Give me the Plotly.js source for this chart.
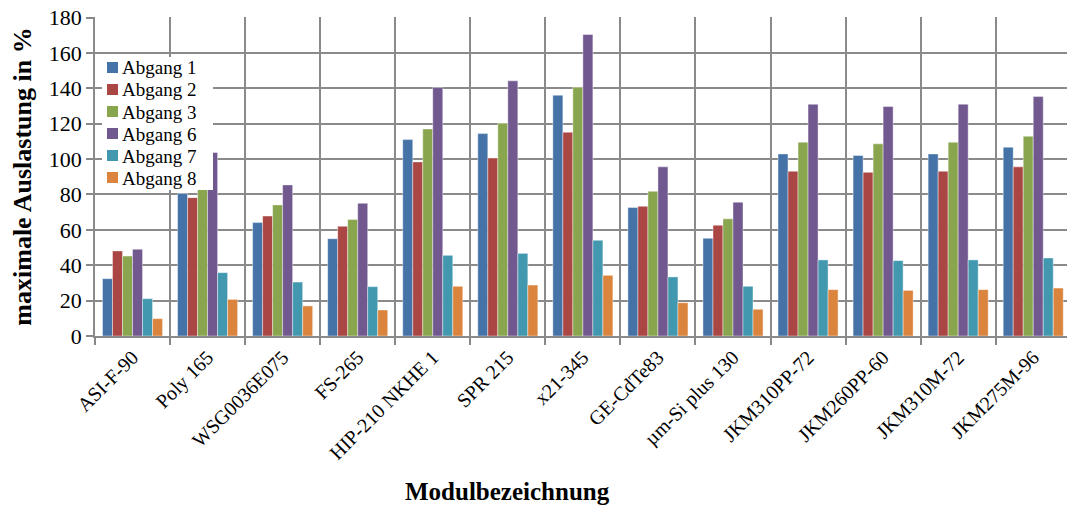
<!DOCTYPE html>
<html>
<head>
<meta charset="utf-8">
<script src="https://cdn.plot.ly/plotly-3.0.1.min.js"></script>
<style>html,body{margin:0;padding:0;background:#fff;}#chart{width:1067px;height:506px;}</style>
</head>
<body>
<div id="chart"></div>
<script>
const categories = ["ASI-F-90","Poly 165","WSG0036E075","FS-265","HIP-210 NKHE 1","SPR 215","x21-345","GE-CdTe83","µm-Si plus 130","JKM310PP-72","JKM260PP-60","JKM310M-72","JKM275M-96"];
const seriesNames = ["Abgang 1","Abgang 2","Abgang 3","Abgang 6","Abgang 7","Abgang 8"];
const abgang1 = [32.4, 80.5, 64.1, 55.0, 111.0, 114.4, 136.1, 72.6, 55.2, 102.9, 102.0, 102.9, 106.7];
const abgang2 = [48.1, 78.2, 67.8, 62.0, 98.4, 100.6, 115.2, 73.3, 62.6, 93.1, 92.5, 93.1, 95.6];
const abgang3 = [45.2, 88.0, 74.1, 65.8, 117.0, 120.2, 140.6, 81.8, 66.2, 109.5, 108.6, 109.5, 112.9];
const abgang6 = [49.0, 103.7, 85.4, 75.0, 140.4, 144.2, 170.4, 95.6, 75.6, 131.0, 129.7, 131.0, 135.3];
const abgang7 = [21.1, 35.8, 30.5, 27.9, 45.6, 46.7, 54.1, 33.4, 28.1, 43.0, 42.6, 43.0, 44.1];
const abgang8 = [9.8, 20.7, 17.0, 14.7, 28.1, 28.8, 34.3, 18.8, 15.1, 26.2, 25.8, 26.2, 27.1];
const yTicks = [0,20,40,60,80,100,120,140,160,180];

const colors = ["#4572A7","#AA4643","#89A54E","#71588F","#4198AF","#DB843D"];
const allSeries = [abgang1, abgang2, abgang3, abgang6, abgang7, abgang8];
const serif = "'Liberation Serif', 'Times New Roman', serif";

const W = 1067, H = 506;
const M = {l: 95, r: 0, t: 17, b: 170};
const plotW = W - M.l - M.r, plotH = H - M.t - M.b;
const px2x = p => (p - M.l) / plotW;
const py2y = p => (H - M.b - p) / plotH;

const traces = allSeries.map((vals, i) => ({
  type: "bar",
  name: seriesNames[i],
  x: categories,
  y: vals,
  marker: {color: colors[i], line: {color: "rgba(255,255,255,0.7)", width: 0.6}},
  hoverinfo: "x+y+name"
}));

// Legend box (Excel-style, drawn over plot area)
const shapes = [{
  type: "rect", xref: "paper", yref: "paper", layer: "above",
  x0: px2x(102), x1: px2x(213), y0: py2y(190), y1: py2y(57),
  fillcolor: "#fff", line: {width: 0}
}];
const annotations = [];
seriesNames.forEach((name, i) => {
  const cy = 67.5 + i * 22;
  shapes.push({
    type: "rect", xref: "paper", yref: "paper", layer: "above",
    x0: px2x(107), x1: px2x(118), y0: py2y(cy + 5.5), y1: py2y(cy - 5.5),
    fillcolor: colors[i], line: {width: 0}
  });
  annotations.push({
    text: name, xref: "paper", yref: "paper",
    x: px2x(121), y: py2y(cy + 0.5), xanchor: "left", yanchor: "middle",
    showarrow: false, borderpad: 0,
    font: {family: serif, size: 19, color: "#000"}
  });
});
annotations.push({
  text: "<b>Modulbezeichnung</b>",
  xref: "paper", yref: "paper",
  x: px2x(507), y: py2y(492),
  xanchor: "center", yanchor: "middle",
  showarrow: false,
  font: {family: serif, size: 25, color: "#000"}
});

const layout = {
  width: W, height: H,
  margin: {l: M.l, r: M.r, t: M.t, b: M.b, pad: 0},
  paper_bgcolor: "#fff", plot_bgcolor: "#fff",
  barmode: "group", bargap: 0.2, bargroupgap: 0,
  font: {family: serif, color: "#000"},
  showlegend: false,
  xaxis: {
    type: "category",
    range: [-0.5, 12.45],
    tickson: "boundaries",
    ticks: "outside", ticklen: 7, tickcolor: "#888", tickwidth: 1.5,
    showgrid: true, gridcolor: "#8a8a8a", gridwidth: 1.6,
    showline: true, linecolor: "#8a8a8a", linewidth: 1.6,
    tickangle: -45,
    tickfont: {family: serif, size: 20, color: "#000"},
    fixedrange: true
  },
  yaxis: {
    range: [0, 180.3],
    tickvals: yTicks,
    ticktext: yTicks.map(String),
    ticks: "outside", ticklen: 7, tickcolor: "#888", tickwidth: 1.5,
    showgrid: true, gridcolor: "#8a8a8a", gridwidth: 1.6,
    zeroline: false,
    showline: true, linecolor: "#8a8a8a", linewidth: 1.6,
    tickfont: {family: serif, size: 22, color: "#000"},
    title: {text: "maximale Auslastung in %", font: {family: serif, size: 26, color: "#000", weight: "bold"}, standoff: 10},
    fixedrange: true
  },
  shapes: shapes,
  annotations: annotations
};

Plotly.newPlot("chart", traces, layout, {displayModeBar: false, responsive: false});
</script>
</body>
</html>
